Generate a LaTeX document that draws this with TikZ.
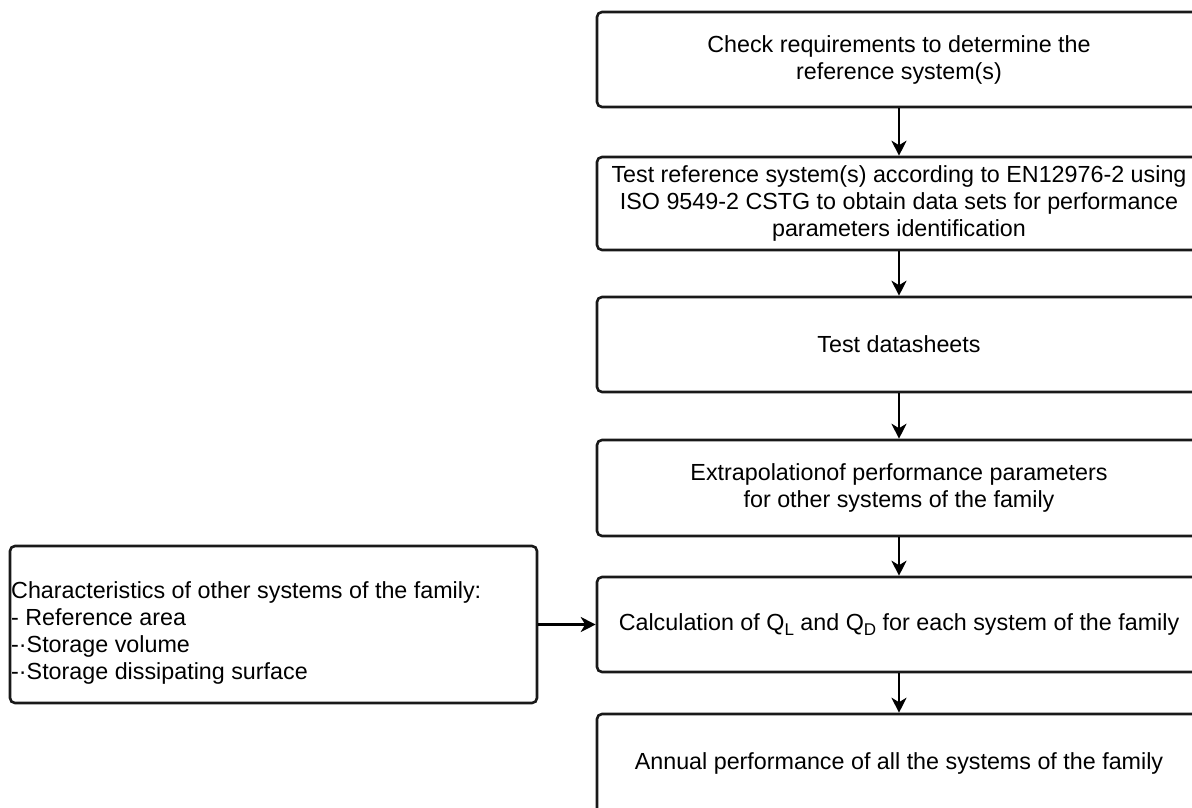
\documentclass[tikz,border=0pt]{standalone}
\usepackage{fontspec}
\setmainfont{Liberation Sans}
\usetikzlibrary{arrows.meta}
\newcommand\lowsub[1]{\raisebox{-0.45ex}{\fontsize{17}{17}\selectfont #1}}
\begin{document}
\begin{tikzpicture}[x=1pt,y=-1pt,
  box/.style={draw=black!90, line width=2.6pt, rounded corners=5pt, minimum width=604pt, inner sep=0pt, align=center, font=\fontsize{23.3}{27}\selectfont},
  conn/.style={line width=2.2pt, -{Stealth[length=15pt,width=15pt,inset=4.5pt]}},
  txt/.style={inner sep=0pt, align=left, font=\fontsize{23.3}{27}\selectfont}]
\useasboundingbox (0,0) rectangle (1192,807);
\node[box, minimum height=95pt] (b1) at (899,59.5) {Check requirements to determine the\\reference system(s)};
\node[box, minimum height=93pt] (b2) at (899,203.5) {Test reference system(s) according to EN12976-2 using\\ISO 9549-2 CSTG to obtain data sets for performance\\parameters identification};
\node[box, minimum height=95pt] (b3) at (899,344.5) {Test datasheets};
\node[box, minimum height=96pt] (b4) at (899,488) {Extrapolationof performance parameters\\for other systems of the family};
\node[box, minimum height=95pt] (b5) at (899,624.5) {Calculation of Q\lowsub{L} and Q\lowsub{D} for each system of the family};
\node[box, minimum height=100pt, text depth=0pt] (b6) at (899,764) {\raisebox{5.5pt}{Annual performance of all the systems of the family}};
\node[draw=black!90, line width=2.6pt, rounded corners=5pt, minimum width=527pt, minimum height=157pt, inner sep=0pt] (l) at (273.5,624.5) {};
\node[txt, anchor=west] (lt) at (11,633) {Characteristics of other systems of the family:\\- Reference area\\-·Storage volume\\-·Storage dissipating surface};
\draw[conn] (b1) -- (b2);
\draw[conn] (b2) -- (b3);
\draw[conn] (b3) -- (b4);
\draw[conn] (b4) -- (b5);
\draw[conn] (b5) -- (b6);
\draw[conn] (l) -- (b5);
\end{tikzpicture}
\end{document}
